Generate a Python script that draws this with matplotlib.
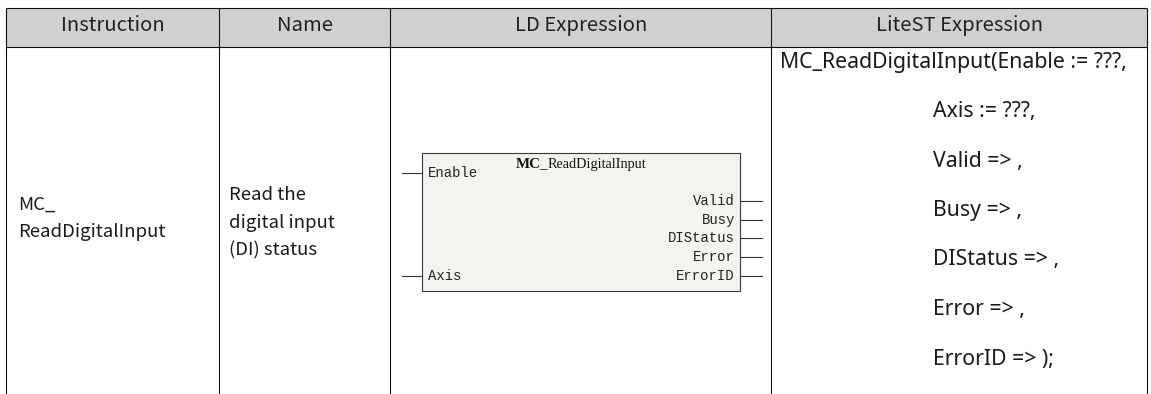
"""Instruction table: MC_ReadDigitalInput."""
import matplotlib
matplotlib.use("Agg")
import matplotlib.pyplot as plt
from matplotlib.patches import Rectangle
from matplotlib.offsetbox import TextArea, HPacker, AnnotationBbox

headers = ["Instruction", "Name", "LD Expression", "LiteST Expression"]
instruction_lines = ["MC_", "ReadDigitalInput"]
name_lines = ["Read the", "digital input", "(DI) status"]
block_title = ["MC_", "ReadDigitalInput"]
input_pins = ["Enable", "Axis"]
output_pins = ["Valid", "Busy", "DIStatus", "Error", "ErrorID"]
st_lines = ["MC_ReadDigitalInput(Enable := ???,", "Axis := ???,", "Valid => ,",
            "Busy => ,", "DIStatus => ,", "Error => ,", "ErrorID => );"]

W, H = 1151, 394
SANS = ["Noto Sans CJK SC", "DejaVu Sans"]
UI = ["Noto Sans", "DejaVu Sans"]
MONO = "Liberation Mono"
SERIF = "Liberation Serif"
col_x = [6.5, 219.5, 390.5, 771.5, 1147.5]
top_y, head_y = 7.5, 46.5
line_kw = dict(color="#111111", lw=0.8, solid_capstyle="butt")

fig = plt.figure(figsize=(W / 100, H / 100), dpi=100)
ax = fig.add_axes([0, 0, 1, 1])
ax.set_xlim(0, W)
ax.set_ylim(H, 0)
ax.axis("off")

# table grid
ax.add_patch(Rectangle((col_x[0], top_y), col_x[-1] - col_x[0], head_y - top_y,
                       fc="#d0d0d0", ec="none"))
ax.plot([col_x[0], col_x[-1]], [top_y, top_y], **line_kw)
ax.plot([col_x[0], col_x[-1]], [head_y, head_y], **line_kw)
for x in col_x:
    ax.plot([x, x], [top_y, H + 2], **line_kw)

for i, h in enumerate(headers):
    ax.text((col_x[i] + col_x[i + 1]) / 2, 25.5, h, family=SANS, fontsize=14.6,
            ha="center", va="center", color="#222222")

# instruction / name cells
for i, s in enumerate(instruction_lines):
    ax.text(18, 210 + i * 27, s, family=SANS, fontsize=13.4, ha="left",
            va="baseline", color="#1a1a1a")
for i, s in enumerate(name_lines):
    ax.text(229, 200 + i * 27.5, s, family=SANS, fontsize=13.4, ha="left",
            va="baseline", color="#1a1a1a")

# LD function block
bx0, bx1, by0, by1 = 422, 740, 153, 291
ax.add_patch(Rectangle((bx0, by0), bx1 - bx0, by1 - by0, fc="#f3f3ef",
                       ec="#3a3a3a", lw=0.8))
in_y = [173, 276]
for s, y in zip(input_pins, in_y):
    ax.plot([402, bx0], [y, y], color="#333333", lw=0.8)
    ax.text(bx0 + 6, y, s, family=MONO, fontsize=10, ha="left", va="center",
            color="#222222")
out_y = [201, 219.5, 238, 257, 276]
for s, y in zip(output_pins, out_y):
    ax.plot([bx1, 762], [y, y], color="#333333", lw=0.8)
    ax.text(bx1 - 5, y, s, family=MONO, fontsize=10, ha="right", va="center",
            color="#222222")

title = HPacker(children=[
    TextArea(block_title[0], textprops=dict(family=SERIF, fontsize=10.8,
                                            weight="bold", color="#111111")),
    TextArea(block_title[1], textprops=dict(family=SERIF, fontsize=10.3,
                                            color="#111111")),
], align="baseline", pad=0, sep=0)
ax.add_artist(AnnotationBbox(title, ((bx0 + bx1) / 2, 164), frameon=False,
                             box_alignment=(0.5, 0.5), pad=0))

# LiteST cell
for i, s in enumerate(st_lines):
    x = 780 if i == 0 else 933
    ax.text(x, 62 + i * 49.5, s, family=UI, fontsize=15.3, ha="left",
            va="center", color="#1a1a1a")

fig.savefig("out.png", dpi=100)
